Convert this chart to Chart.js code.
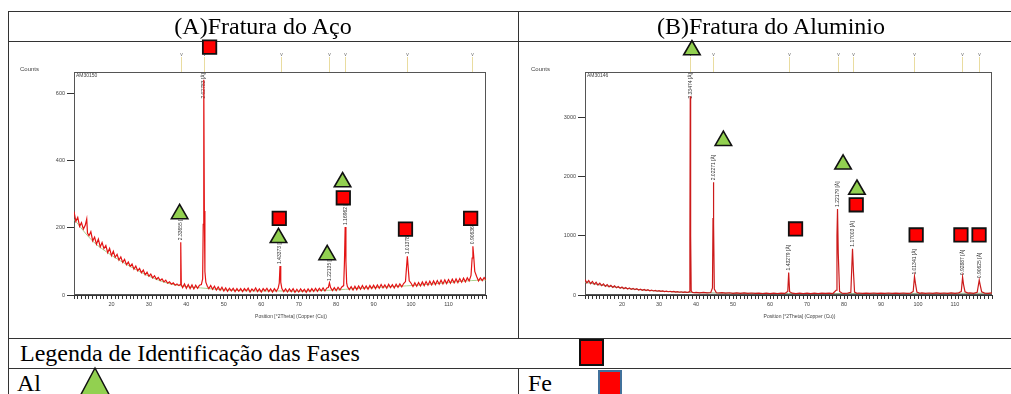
<!DOCTYPE html>
<html><head><meta charset="utf-8">
<script src="https://cdn.jsdelivr.net/npm/chart.js@4.4.1/dist/chart.umd.min.js"></script>
<style>
html,body{margin:0;padding:0;background:#fff;}
body{width:1011px;height:394px;overflow:hidden;position:relative;font-family:"Liberation Serif","Times New Roman",serif;color:#000;}
.hl{position:absolute;height:1px;background:#333;left:8px;right:0;z-index:1;}
.vl{position:absolute;width:1px;background:#333;z-index:1;}
.txt{position:absolute;font-size:24px;line-height:30px;white-space:nowrap;z-index:3;}
canvas{position:absolute;z-index:2;}
</style></head>
<body>
<div class="hl" style="top:11px"></div>
<div class="hl" style="top:41px"></div>
<div class="hl" style="top:338px"></div>
<div class="hl" style="top:368px"></div>
<div class="vl" style="left:8px;top:11px;height:383px"></div>
<div class="vl" style="left:518px;top:11px;height:327px"></div>
<div class="vl" style="left:518px;top:368px;height:26px"></div>

<div class="txt" style="left:8px;width:510px;top:11px;text-align:center">(A)Fratura do Aço</div>
<div class="txt" style="left:518px;width:506px;top:11px;text-align:center">(B)Fratura do Aluminio</div>
<div class="txt" style="left:20px;top:338px">Legenda de Identificação das Fases</div>
<div class="txt" style="left:17px;top:368px">Al</div>
<div class="txt" style="left:528px;top:368px">Fe</div>

<svg style="position:absolute;left:0;top:0;z-index:4" width="1011" height="394">
  <rect x="580" y="340" width="23" height="25" fill="#ff0000" stroke="#111" stroke-width="2"/>
  <rect x="599" y="371" width="22" height="30" fill="#ff0000" stroke="#41719c" stroke-width="2"/>
  <polygon points="95,368 78,400 112,400" fill="#92d050" stroke="#111" stroke-width="1.5"/>
</svg>

<canvas id="cA" width="508" height="301" style="left:9px;top:36px"></canvas>
<canvas id="cB" width="492" height="301" style="left:519px;top:36px"></canvas>

<script>
// ---------- (A) Fratura do Aço ----------
const thetaA = [
10.0,10.5,11.0,11.5,12.0,12.5,13.0,13.4,13.6,14.0,14.5,15.0,15.5,16.0,16.5,17.0,17.5,18.0,18.5,19.0,
19.5,20.0,20.5,21.0,21.5,22.0,22.5,23.0,23.5,24.0,24.5,25.0,25.5,26.0,26.5,27.0,27.5,28.0,28.5,29.0,
29.5,30.0,30.5,31.0,31.5,32.0,32.5,33.0,33.5,34.0,34.5,35.0,35.5,36.0,36.5,37.0,37.5,38.0,38.35,38.5,
38.65,39.0,39.5,40.0,40.5,41.0,41.5,42.0,42.5,43.0,43.5,44.0,44.35,44.5,44.65,44.8,44.95,45.2,45.6,46.0,
46.5,47.0,47.5,48.0,48.5,49.0,49.5,50.0,50.5,51.0,51.5,52.0,52.5,53.0,53.5,54.0,54.5,55.0,55.5,56.0,
56.5,57.0,57.5,58.0,58.5,59.0,59.5,60.0,60.5,61.0,61.5,62.0,62.5,63.0,63.5,64.0,64.5,64.8,65.0,65.2,
65.5,66.0,66.5,67.0,67.5,68.0,68.5,69.0,69.5,70.0,70.5,71.0,71.5,72.0,72.5,73.0,73.5,74.0,74.5,75.0,
75.5,76.0,76.5,77.0,77.5,77.9,78.2,78.5,79.0,79.5,80.0,80.5,81.0,81.5,82.0,82.2,82.4,82.6,82.8,83.0,
83.5,84.0,84.5,85.0,85.5,86.0,86.5,87.0,87.5,88.0,88.5,89.0,89.5,90.0,90.5,91.0,91.5,92.0,92.5,93.0,
93.5,94.0,94.5,95.0,95.5,96.0,96.5,97.0,97.5,98.0,98.5,98.8,99.0,99.2,99.5,100.0,100.5,101.0,101.5,102.0,
102.5,103.0,103.5,104.0,104.5,105.0,105.5,106.0,106.5,107.0,107.5,108.0,108.5,109.0,109.5,110.0,110.5,111.0,111.5,112.0,
112.5,113.0,113.5,114.0,114.5,115.0,115.5,116.0,116.3,116.5,116.7,117.0,117.5,118.0,118.5,119.0,119.5,120.0];
const countsA = [
248,219,231,204,215,196,207,226,184,176,188,161,172,151,166,143,156,138,147,126,
139,117,130,112,121,104,113,97,106,90,98,85,92,77,86,72,79,66,74,60,
68,56,62,51,57,47,52,43,48,39,44,35,39,32,36,29,33,28,31,157,
30,22,33,20,31,19,30,18,29,20,29,31,48,210,640,250,70,38,26,19,
28,17,26,15,24,14,23,12,21,11,20,12,20,10,19,11,19,10,19,12,
20,9,18,12,21,10,18,9,19,12,20,10,18,9,19,11,20,35,86,38,
19,10,18,9,18,10,19,8,17,9,18,10,17,8,18,10,19,11,20,11,
20,12,21,12,21,22,36,22,13,22,13,23,15,24,28,95,202,100,35,25,
16,25,15,26,16,27,17,28,18,27,17,28,19,29,19,30,20,31,21,30,
20,32,22,31,21,32,23,33,24,34,40,85,115,85,42,35,25,36,26,37,
27,39,28,40,29,41,30,42,31,43,32,44,33,45,34,46,35,47,36,48,
37,49,38,50,39,51,42,58,110,145,118,70,55,42,51,43,52,45];
const bgThetaA = [10,15,20,25,30,35,40,45,50,55,60,65,70,75,80,85,90,95,100,105,110,115,120];
const bgCountsA = [225,160,118,85,56,35,25,20,15,13,12,12,11,13,15,19,22,25,28,32,37,42,45];
const peakPosA = [38.5,44.65,65.0,78.2,82.4,99.0,116.5];
const peakCountA = [157,640,86,36,202,115,145];
const peakLabelA = ['2.33655 [Å]','2.02783 [Å]','1.43373 [Å]','1.22135 [Å]','1.16962 [Å]','1.01378 [Å]','0.90636 [Å]'];
const refA = [38.6,44.7,65.3,78.1,82.4,98.9,116.3];
const feMarkA = [[46.2,737],[64.8,228],[81.9,289],[98.5,196],[115.9,228]];
const alMarkA = [[38.2,241],[64.6,170],[77.6,119],[81.7,336]];
const yTicksA = [0,200,400,600];

// ---------- (B) Fratura do Aluminio ----------
const thetaB = [
10.0,10.5,11.0,11.5,12.0,12.5,13.0,13.5,14.0,14.5,15.0,15.5,16.0,16.5,17.0,17.5,18.0,18.5,19.0,19.5,
20.0,20.5,21.0,21.5,22.0,22.5,23.0,23.5,24.0,24.5,25.0,25.5,26.0,26.5,27.0,27.5,28.0,28.5,29.0,29.5,
30.0,30.5,31.0,31.5,32.0,32.5,33.0,33.5,34.0,34.5,35.0,35.5,36.0,36.5,37.0,37.5,38.0,38.25,38.35,38.45,
38.55,38.7,39.0,39.5,40.0,41.0,42.0,43.0,44.0,44.45,44.6,44.7,44.8,44.95,45.5,46.0,47.0,48.0,49.0,50.0,
51.0,52.0,53.0,54.0,55.0,56.0,57.0,58.0,59.0,60.0,61.0,62.0,63.0,64.0,64.8,65.05,65.3,66.0,67.0,68.0,
69.0,70.0,71.0,72.0,73.0,74.0,75.0,76.0,77.0,77.85,78.1,78.25,78.45,78.8,79.5,80.0,81.0,81.85,82.3,82.55,
82.85,83.5,84.0,85.0,86.0,87.0,88.0,89.0,90.0,91.0,92.0,93.0,94.0,95.0,96.0,97.0,98.0,98.7,99.05,99.3,
99.7,100.5,101.0,102.0,103.0,104.0,105.0,106.0,107.0,108.0,109.0,110.0,111.0,111.7,112.05,112.3,112.7,113.5,114.0,115.0,
116.0,116.55,116.8,117.2,118.0,119.0,120.0];
const countsB = [
262,205,244,192,228,180,214,168,200,157,187,147,175,138,164,129,153,121,144,114,
135,107,127,101,119,95,112,90,105,85,99,80,93,76,88,72,83,68,78,64,
74,61,70,58,66,55,63,52,60,50,57,47,54,45,52,43,49,60,900,3350,
1000,70,44,38,45,37,44,36,42,120,1300,1900,1200,100,38,34,40,31,38,29,
36,28,35,27,34,26,33,25,32,24,31,25,32,26,60,380,55,30,24,31,
25,32,24,31,25,32,26,33,25,80,1000,1450,700,60,30,26,32,45,780,400,
50,28,34,26,33,27,34,26,33,27,34,26,33,27,34,27,33,60,310,200,
50,29,35,27,34,28,35,27,34,28,35,29,36,60,300,180,55,31,37,29,
45,250,170,55,33,29,36];
const bgThetaB = [10,15,20,25,30,35,40,45,50,55,60,70,80,90,100,110,120];
const bgCountsB = [215,160,120,88,65,50,40,34,30,28,26,25,25,26,27,28,29];
const peakPosB = [38.45,44.7,65.05,78.25,82.3,99.05,112.05,116.55];
const peakCountB = [3350,1900,380,1450,780,310,300,250];
const peakLabelB = ['2.33474 [Å]','2.02271 [Å]','1.43279 [Å]','1.22179 [Å]','1.17003 [Å]','1.01341 [Å]','0.92887 [Å]','0.90625 [Å]'];
const refB = [38.45,44.7,65.1,78.25,82.4,98.9,112.0,116.6];
const feMarkB = [[66.9,1113],[83.3,1521],[99.5,1012],[111.6,1012],[116.5,1012]];
const alMarkB = [[38.9,4131],[47.4,2602],[79.75,2204],[83.5,1779]];
const yTicksB = [0,1000,2000,3000];

const SANS = '"Liberation Sans", Arial, sans-serif';

function pairs(xs, ys){ return xs.map((v,i)=>({x:v, y:ys[i]})); }

function deco(cfg){
  return {
    id: 'deco',
    beforeDatasetsDraw(chart){
      const ctx = chart.ctx, a = chart.chartArea, x = chart.scales.x, y = chart.scales.y;
      ctx.save();
      ctx.strokeStyle = '#555'; ctx.lineWidth = 1;
      ctx.strokeRect(Math.round(a.left)+0.5, Math.round(a.top)+0.5, Math.round(a.right-a.left)-1, Math.round(a.bottom-a.top)-1);
      ctx.font = '5px ' + SANS; ctx.textAlign = 'center'; ctx.textBaseline = 'alphabetic';
      cfg.refs.forEach(r=>{
        const px = Math.round(x.getPixelForValue(r))+0.5;
        ctx.strokeStyle = '#e9dca0'; ctx.lineWidth = 1;
        ctx.beginPath(); ctx.moveTo(px, a.top-15); ctx.lineTo(px, a.top); ctx.stroke();
        ctx.fillStyle = '#666'; ctx.fillText('v', px, a.top-16);
      });
      ctx.font = '5px ' + SANS; ctx.fillStyle = '#333';
      cfg.peaks.forEach((p,i)=>{
        const px = x.getPixelForValue(p);
        const w = ctx.measureText(cfg.labels[i]).width;
        let py = y.getPixelForValue(cfg.counts[i]) - 2;
        if (py - w < a.top + 1) py = a.top + 1 + w;
        ctx.save(); ctx.translate(px, py); ctx.rotate(-Math.PI/2);
        ctx.textAlign = 'left'; ctx.textBaseline = 'middle';
        ctx.fillText(cfg.labels[i], 0, 0); ctx.restore();
      });
      ctx.fillStyle = '#444'; ctx.textBaseline = 'middle';
      ctx.font = '6px ' + SANS; ctx.textAlign = 'left';
      ctx.fillText('Counts', a.left - 54, a.top - 3);
      ctx.font = '5px ' + SANS;
      ctx.fillText(cfg.sample, a.left + 2, a.top + 4);
      ctx.textAlign = 'center';
      ctx.fillText('Position [°2Theta] (Copper (Cu))', (a.left+a.right)/2 + 11, a.bottom + 22);
      ctx.restore();
    },
    afterDatasetsDraw(chart){
      const ctx = chart.ctx, x = chart.scales.x, y = chart.scales.y;
      ctx.save();
      const put = (list, style, fill, bw) => list.forEach(p=>{
        ctx.fillStyle = fill; ctx.strokeStyle = '#111'; ctx.lineWidth = bw;
        Chart.helpers.drawPoint(ctx, {pointStyle:style, radius:9.5, rotation:0, borderWidth:bw},
          x.getPixelForValue(p[0]), y.getPixelForValue(p[1]));
      });
      put(cfg.al, 'triangle', '#92d050', 1.6);
      put(cfg.fe, 'rect', '#ff0000', 1.8);
      ctx.restore();
    }
  };
}

function makeChart(id, o){
  const ctx = document.getElementById(id);
  return new Chart(ctx, {
    type: 'line',
    data: { datasets: [
      { data: pairs(o.theta, o.counts), borderColor:o.color, borderWidth:1.2, pointRadius:0, tension:0, order:2 },
      { data: pairs(o.bgT, o.bgC), borderColor:o.bgColor, borderWidth:1, pointRadius:0, tension:0.3, order:3 }
    ]},
    options: {
      responsive:false, maintainAspectRatio:false, animation:false, events:[],
      layout:{ padding:{ left:0, top:36, right:o.padRight, bottom:0 } },
      plugins:{ legend:{display:false}, tooltip:{enabled:false} },
      scales:{
        x:{ type:'linear', min:10, max:120,
            afterFit(s){ s.height = 42; },
            afterBuildTicks(s){ s.ticks = s.ticks.filter(t=>Number.isInteger(t.value)); },
            ticks:{ stepSize:1, autoSkip:false, maxRotation:0, padding:2, color:'#444', font:{size:5.5, family:SANS},
                    callback:(v)=> (v%10===0 && v>=20 && v<=110) ? String(v) : '' },
            grid:{ drawOnChartArea:false, drawTicks:true, tickLength:4, color:'#333' },
            border:{ display:true, color:'#333', width:1 } },
        y:{ type:'linear', min:0, max:o.ymax,
            afterFit(s){ s.width = o.yWidth; },
            afterBuildTicks(s){ s.ticks = o.yTicks.map(v=>({value:v})); },
            ticks:{ padding:2, color:'#444', font:{size:5.5, family:SANS}, callback:(v)=>String(v) },
            grid:{ drawOnChartArea:false, drawTicks:true, tickLength:7, color:'#333' },
            border:{ display:true, color:'#333', width:1 } }
      }
    },
    plugins:[ deco({refs:o.refs, peaks:o.pk, counts:o.pkc, labels:o.pkl, sample:o.sample, fe:o.fe, al:o.al}) ]
  });
}

makeChart('cA', { theta:thetaA, counts:countsA, bgT:bgThetaA, bgC:bgCountsA, color:'#e31414', bgColor:'#a9d08e',
  fe:feMarkA, al:alMarkA, refs:refA, pk:peakPosA, pkc:peakCountA, pkl:peakLabelA, sample:'AM30150',
  ymax:663, yTicks:yTicksA, yWidth:65, padRight:31 });
makeChart('cB', { theta:thetaB, counts:countsB, bgT:bgThetaB, bgC:bgCountsB, color:'#cc1a1a', bgColor:'#8fa880',
  fe:feMarkB, al:alMarkB, refs:refB, pk:peakPosB, pkc:peakCountB, pkl:peakLabelB, sample:'AM30146',
  ymax:3760, yTicks:yTicksB, yWidth:66, padRight:19 });
</script>
</body></html>
